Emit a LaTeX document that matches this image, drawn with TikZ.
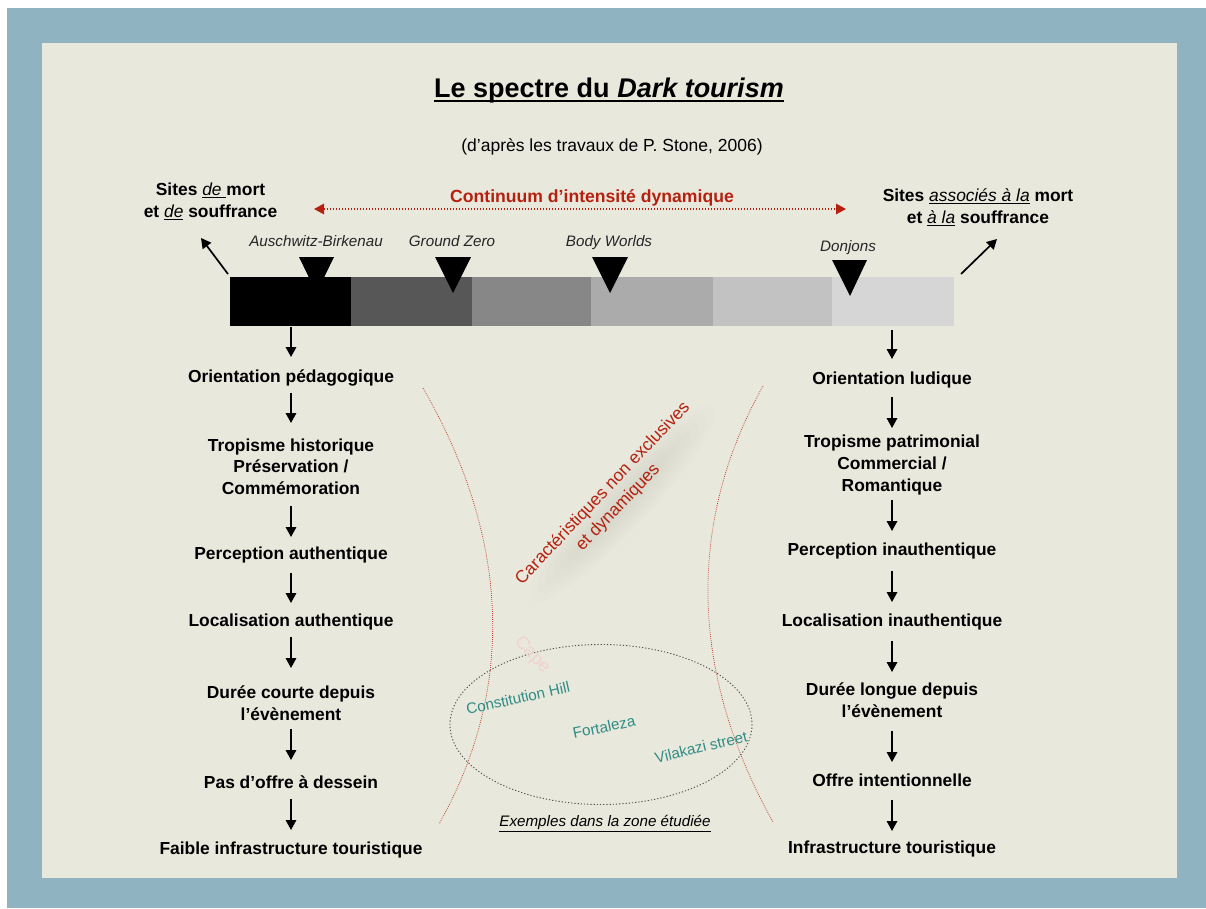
\documentclass[tikz,border=0pt]{standalone}
\usepackage{fontspec}
\setmainfont{Liberation Sans}
\usetikzlibrary{arrows.meta}
\definecolor{frameblue}{HTML}{8FB3C1}
\definecolor{paper}{HTML}{E9E8DC}
\definecolor{darkred}{HTML}{B5200F}
\definecolor{teal2}{HTML}{2F8C85}
\newcommand{\ulit}[1]{\underline{\mdseries\itshape #1}}
\tikzset{
  x=1pt,y=-1pt,
  lab/.style={font=\fontsize{17.4}{21.7}\selectfont\bfseries,align=center,text=black,inner sep=0pt},
  site/.style={font=\fontsize{15.2}{18}\selectfont\itshape,text=black!85,inner sep=0pt},
  flow/.style={-{Triangle[length=10pt,width=10.5pt]},line width=1.7pt,black},
  marker/.style={fill=black,draw=none},
  seg/.style={draw=none,minimum height=48.5pt,inner sep=0pt,outer sep=0pt},
  ex/.style={font=\fontsize{15.2}{18}\selectfont,text=teal2,inner sep=0pt},
  curve/.style={draw=darkred!85,line width=.8pt,dash pattern=on .8pt off 1.2pt},
}
\begin{document}
\begin{tikzpicture}
\useasboundingbox (0,0) rectangle (1206,908);
\fill[white] (0,0) rectangle (1206,908);
\fill[frameblue] (7,8) rectangle (1206,908);
\fill[paper] (42,43) rectangle (1177,878);
% soft shadow under the slanted text
\begin{scope}[shift={(622,503)},rotate=47]
  \foreach \r in {1,...,8}{
    \fill[black,opacity=.006] (0,0) ellipse [x radius={45+11*\r},y radius={3+3*\r}];
  }
\end{scope}
% title
\node[inner sep=0pt,anchor=base,font=\fontsize{27}{32}\selectfont\bfseries] (title) at (609,97) {Le spectre du \textit{Dark tourism}};
\draw[line width=1.7pt] ([yshift=-4pt]title.base west) -- ([yshift=-4pt]title.base east);
\node[inner sep=0pt,font=\fontsize{17.5}{21}\selectfont] (sub) at (612,147) {(d’après les travaux de P. Stone, 2006)};
\node[lab] (sl) at (210.5,201.5) {Sites \ulit{de\ }mort\\et \ulit{de} souffrance};
\node[lab] (sr) at (978,207) {Sites \ulit{associés à la} mort\\et \ulit{à la} souffrance};
\node[font=\fontsize{17.6}{21}\selectfont\bfseries,text=darkred,inner sep=0pt] (cont) at (592,198) {Continuum d’intensité dynamique};
\coordinate (cl) at (314,209);
\coordinate (cr) at (846,209);
\draw[{Triangle[length=10pt,width=10.5pt]}-{Triangle[length=10pt,width=10.5pt]},darkred,line width=1.5pt,dash pattern=on 1.5pt off 1.5pt] (cl) -- (cr);
% bar
\node[seg,fill=black,minimum width=121pt,anchor=north west] (b1) at (230,277) {};
\node[seg,fill=black!66,minimum width=121pt,anchor=north west] (b2) at (351,277) {};
\node[seg,fill=black!47,minimum width=119pt,anchor=north west] (b3) at (472,277) {};
\node[seg,fill=black!33,minimum width=122pt,anchor=north west] (b4) at (591,277) {};
\node[seg,fill=black!24,minimum width=119pt,anchor=north west] (b5) at (713,277) {};
\node[seg,fill=black!16,minimum width=122pt,anchor=north west] (b6) at (832,277) {};
% markers
\fill[marker] (299,257) -- (334,257) -- (316.5,293) -- cycle;
\fill[marker] (435,257) -- (471,257) -- (453,293) -- cycle;
\fill[marker] (592,257) -- (628,257) -- (610,293) -- cycle;
\fill[marker] (832,260) -- (867,260) -- (850,296) -- cycle;
\node[site] (s1) at (316,241) {Auschwitz-Birkenau};
\node[site] (s2) at (452,241) {Ground Zero};
\node[site] (s3) at (609,243) {Body Worlds};
\node[site] (s4) at (848,248) {Donjons};
\coordinate (al) at (228,274);
\coordinate (ale) at (201,238);
\coordinate (ar) at (961,274);
\coordinate (are) at (997,239);
\draw[flow] (al) -- (ale);
\draw[flow] (ar) -- (are);
% left column
\node[lab] (l1) at (291,378) {Orientation pédagogique};
\node[lab] (l2) at (291,466.5) {Tropisme historique\\Préservation /\\Commémoration};
\node[lab] (l3) at (291,555) {Perception authentique};
\node[lab] (l4) at (291,622) {Localisation authentique};
\node[lab] (l5) at (291,703) {Durée courte depuis\\l’évènement};
\node[lab] (l6) at (291,782) {Pas d’offre à dessein};
\node[lab] (l7) at (291,850) {Faible infrastructure touristique};
\coordinate (lt) at (291,327);
\draw[flow] (lt) -- (291,357);
\draw[flow] (291,393) -- (291,423);
\draw[flow] (291,506) -- (291,537);
\draw[flow] (291,573) -- (291,603);
\draw[flow] (291,637) -- (291,668);
\draw[flow] (291,729) -- (291,760);
\draw[flow] (291,799) -- (291,830);
% right column
\node[lab] (r1) at (892,380) {Orientation ludique};
\node[lab] (r2) at (892,465) {Tropisme patrimonial\\Commercial /\\Romantique};
\node[lab] (r3) at (892,551) {Perception inauthentique};
\node[lab] (r4) at (892,622) {Localisation inauthentique};
\node[lab] (r5) at (892,700) {Durée longue depuis\\l’évènement};
\node[lab] (r6) at (892,780) {Offre intentionnelle};
\node[lab] (r7) at (892,849) {Infrastructure touristique};
\draw[flow] (892,330) -- (892,359);
\draw[flow] (892,397) -- (892,428);
\draw[flow] (892,500) -- (892,531);
\draw[flow] (892,571) -- (892,602);
\draw[flow] (892,641) -- (892,672);
\draw[flow] (892,731) -- (892,762);
\draw[flow] (892,800) -- (892,831);
% red curves
\draw[curve] (423,388) .. controls (505,530) and (520,680) .. (439,824);
\draw[curve] (763,386) .. controls (688,520) and (688,670) .. (773,822);
% centre text
\node[rotate=46.5,align=center,font=\fontsize{17.4}{21}\selectfont,text=darkred,inner sep=0pt] (car) at (610.5,500.5) {Caractéristiques non exclusives\\et dynamiques};
% ellipse
\draw[black!70,line width=.9pt,dash pattern=on 1.2pt off 2pt] (601,724.5) ellipse [x radius=151,y radius=80];
\node[ex,rotate=12.5] (e1) at (518,698) {Constitution Hill};
\node[ex,rotate=12] (e2) at (604,727) {Fortaleza};
\node[ex,rotate=13.5] (e3) at (701,747) {Vilakazi street};
\node[rotate=-47,font=\fontsize{18}{20}\selectfont,text=darkred!20,inner sep=0pt] (ghost) at (532,655) {Cape};
\node[font=\fontsize{15.2}{18}\selectfont\itshape,inner sep=0pt] (ex) at (605,823.5) {\underline{Exemples dans la zone étudiée}};
\end{tikzpicture}
\end{document}
